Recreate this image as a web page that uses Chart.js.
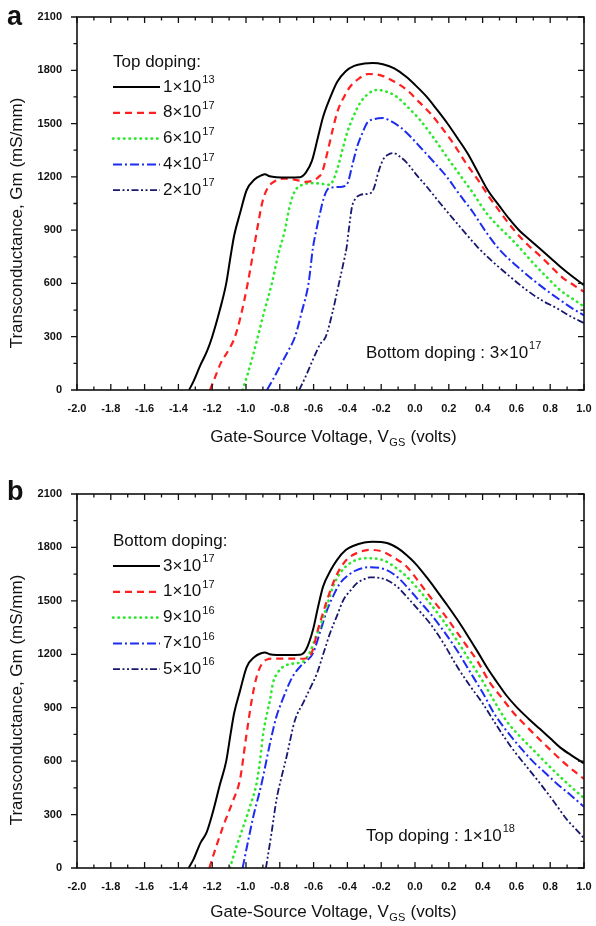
<!DOCTYPE html>
<html>
<head>
<meta charset="utf-8">
<title>Transconductance vs gate-source voltage</title>
<script src="https://cdn.jsdelivr.net/npm/chart.js@4.4.1/dist/chart.umd.min.js"></script>
<style>
  body { margin: 0; background: #fff; }
  canvas { display: block; }
</style>
</head>
<body>
<canvas id="chartA" width="596" height="463"></canvas>
<canvas id="chartB" width="596" height="463"></canvas>
<script>
// ---- data: [Vgs (V), Gm (mS/mm)] ----
// panel a: bottom doping fixed, top doping varied
const aTop1e13 = [[-1.337,0],[-1.31,50],[-1.27,140],[-1.23,220],[-1.2,300],[-1.155,450],[-1.117,600],[-1.09,760],[-1.07,870],[-1.035,996],[-0.996,1126],[-0.95,1185],[-0.91,1208],[-0.888,1215],[-0.86,1203],[-0.82,1198],[-0.75,1197],[-0.68,1198],[-0.645,1225],[-0.61,1290],[-0.575,1420],[-0.544,1537],[-0.5,1650],[-0.46,1735],[-0.41,1795],[-0.36,1825],[-0.3,1838],[-0.25,1841],[-0.19,1834],[-0.12,1810],[-0.05,1762],[0,1718],[0.07,1650],[0.13,1578],[0.19,1503],[0.25,1420],[0.31,1334],[0.37,1230],[0.43,1126],[0.5,1035],[0.56,960],[0.62,895],[0.68,845],[0.74,795],[0.8,745],[0.86,694],[0.93,640],[1,590]];
const aTop8e17 = [[-1.213,0],[-1.19,55],[-1.15,150],[-1.1,230],[-1.065,300],[-1.03,420],[-0.99,600],[-0.96,760],[-0.935,900],[-0.9,1070],[-0.87,1140],[-0.83,1175],[-0.78,1190],[-0.757,1190],[-0.7,1182],[-0.65,1172],[-0.6,1180],[-0.57,1200],[-0.55,1225],[-0.515,1351],[-0.486,1470],[-0.456,1576],[-0.42,1650],[-0.385,1706],[-0.33,1755],[-0.278,1779],[-0.207,1773],[-0.13,1740],[-0.047,1689],[0.02,1625],[0.089,1559],[0.16,1475],[0.225,1390],[0.3,1280],[0.385,1165],[0.44,1085],[0.49,1020],[0.54,955],[0.6,885],[0.67,815],[0.74,755],[0.8,700],[0.876,630],[0.94,590],[1,553]];
const aTop6e17 = [[-1.02,0],[-0.99,90],[-0.96,190],[-0.93,300],[-0.89,450],[-0.847,600],[-0.81,760],[-0.77,900],[-0.745,1020],[-0.72,1100],[-0.698,1137],[-0.66,1157],[-0.62,1165],[-0.56,1162],[-0.503,1155],[-0.48,1190],[-0.456,1256],[-0.43,1350],[-0.402,1447],[-0.36,1550],[-0.325,1616],[-0.28,1665],[-0.225,1689],[-0.17,1680],[-0.107,1650],[-0.04,1590],[0.03,1520],[0.11,1420],[0.189,1312],[0.27,1205],[0.343,1109],[0.42,1000],[0.5,915],[0.56,860],[0.62,800],[0.7,714],[0.78,635],[0.858,563],[0.93,515],[1,470]];
const aTop4e17 = [[-0.876,0],[-0.84,60],[-0.79,150],[-0.75,220],[-0.71,300],[-0.67,440],[-0.63,600],[-0.604,800],[-0.584,900],[-0.562,996],[-0.54,1080],[-0.52,1126],[-0.49,1140],[-0.444,1143],[-0.41,1150],[-0.396,1171],[-0.37,1270],[-0.343,1368],[-0.31,1450],[-0.284,1503],[-0.24,1525],[-0.19,1531],[-0.14,1512],[-0.089,1481],[-0.03,1430],[0.03,1368],[0.11,1285],[0.189,1199],[0.26,1105],[0.34,1005],[0.42,890],[0.5,790],[0.6,700],[0.7,619],[0.78,560],[0.858,507],[0.93,460],[1,420]];
const aTop2e17 = [[-0.685,0],[-0.65,70],[-0.6,180],[-0.56,260],[-0.528,300],[-0.49,430],[-0.45,600],[-0.42,730],[-0.405,800],[-0.392,900],[-0.373,1030],[-0.35,1080],[-0.325,1098],[-0.28,1105],[-0.254,1115],[-0.235,1160],[-0.225,1199],[-0.19,1295],[-0.16,1325],[-0.13,1334],[-0.09,1315],[-0.047,1278],[0.01,1210],[0.071,1143],[0.15,1050],[0.225,965],[0.305,875],[0.37,805],[0.46,722],[0.56,640],[0.66,563],[0.75,505],[0.838,461],[0.92,415],[1,377]];

// panel b: top doping fixed, bottom doping varied
const bBot3e17 = [[-1.34,0],[-1.31,50],[-1.27,140],[-1.233,200],[-1.2,300],[-1.154,470],[-1.117,600],[-1.09,760],[-1.07,870],[-1.035,996],[-0.996,1128],[-0.95,1185],[-0.91,1206],[-0.888,1210],[-0.86,1200],[-0.82,1196],[-0.75,1196],[-0.68,1197],[-0.645,1225],[-0.604,1336],[-0.575,1460],[-0.544,1580],[-0.5,1670],[-0.462,1729],[-0.41,1785],[-0.367,1808],[-0.3,1828],[-0.25,1832],[-0.166,1825],[-0.1,1795],[-0.047,1755],[0,1712],[0.071,1630],[0.13,1555],[0.189,1478],[0.25,1395],[0.308,1310],[0.37,1215],[0.43,1120],[0.483,1046],[0.54,970],[0.6,905],[0.67,840],[0.74,780],[0.8,728],[0.86,676],[0.93,630],[1,588]];
const bBot1e17 = [[-1.217,0],[-1.18,110],[-1.136,232],[-1.08,370],[-1.035,500],[-1,730],[-0.966,943],[-0.937,1074],[-0.91,1140],[-0.878,1170],[-0.84,1176],[-0.75,1176],[-0.68,1175],[-0.64,1178],[-0.62,1190],[-0.6,1240],[-0.58,1319],[-0.55,1415],[-0.52,1505],[-0.48,1610],[-0.444,1680],[-0.4,1735],[-0.345,1768],[-0.266,1786],[-0.19,1776],[-0.12,1740],[-0.049,1692],[0.02,1610],[0.089,1523],[0.16,1440],[0.225,1355],[0.3,1255],[0.365,1168],[0.444,1040],[0.51,960],[0.58,875],[0.66,795],[0.74,719],[0.81,655],[0.876,596],[0.94,545],[1,500]];
const bBot9e16 = [[-1.095,0],[-1.06,110],[-1.016,232],[-0.975,350],[-0.937,477],[-0.915,620],[-0.898,758],[-0.875,870],[-0.858,943],[-0.84,1040],[-0.81,1100],[-0.78,1130],[-0.74,1145],[-0.698,1150],[-0.66,1160],[-0.62,1215],[-0.59,1290],[-0.562,1355],[-0.52,1475],[-0.485,1580],[-0.44,1660],[-0.385,1711],[-0.33,1735],[-0.286,1739],[-0.19,1729],[-0.12,1690],[-0.049,1636],[0.02,1565],[0.089,1486],[0.17,1385],[0.247,1280],[0.32,1170],[0.4,1050],[0.47,935],[0.542,825],[0.62,740],[0.7,663],[0.78,585],[0.858,513],[0.93,450],[1,393]];
const bBot7e16 = [[-1.02,0],[-0.99,140],[-0.957,288],[-0.907,477],[-0.858,700],[-0.82,850],[-0.79,930],[-0.769,980],[-0.74,1045],[-0.71,1095],[-0.68,1130],[-0.64,1165],[-0.604,1205],[-0.56,1330],[-0.52,1449],[-0.48,1535],[-0.444,1598],[-0.4,1640],[-0.345,1673],[-0.266,1689],[-0.167,1673],[-0.1,1630],[-0.049,1580],[0.02,1505],[0.089,1430],[0.17,1330],[0.247,1224],[0.32,1110],[0.4,985],[0.47,865],[0.542,770],[0.62,680],[0.7,596],[0.77,535],[0.838,475],[0.92,410],[1,344]];
const bBot5e16 = [[-0.882,0],[-0.85,190],[-0.82,382],[-0.79,510],[-0.76,625],[-0.71,831],[-0.66,930],[-0.62,1010],[-0.58,1093],[-0.54,1210],[-0.503,1318],[-0.46,1420],[-0.424,1505],[-0.38,1560],[-0.345,1598],[-0.3,1622],[-0.266,1632],[-0.2,1627],[-0.167,1617],[-0.1,1575],[-0.049,1523],[0.02,1450],[0.089,1373],[0.17,1260],[0.25,1130],[0.32,1030],[0.4,925],[0.49,790],[0.58,665],[0.66,570],[0.74,475],[0.82,375],[0.9,270],[0.95,220],[1,168]];

// labels ("^" marks the exponent)
const legendLabelsA = ['1×10^13', '8×10^17', '6×10^17', '4×10^17', '2×10^17'];
const legendLabelsB = ['3×10^17', '1×10^17', '9×10^16', '7×10^16', '5×10^16'];
const xAxisRange = [-2, 1];
const yAxisRange = [0, 2100];

const FONT = '"Liberation Sans", Arial, sans-serif';

const lineStyles = [
    { color: '#000000', dash: [], width: 2 },
    { color: '#ff1f1f', dash: [7, 5], width: 2.2 },
    { color: '#2ee82e', dash: [0.5, 5], width: 2.6, cap: 'round' },
    { color: '#1c2cf0', dash: [9, 3, 2, 3], width: 2 },
    { color: '#18186e', dash: [7, 2.5, 2, 2.5, 2, 2.5], width: 1.8 },
];

// text with a raised exponent after "^"
function drawPower(ctx, text, x, y, size) {
    const parts = text.split('^');
    ctx.font = size + 'px ' + FONT;
    ctx.fillText(parts[0], x, y);
    if (parts[1]) {
        const w = ctx.measureText(parts[0]).width;
        ctx.font = Math.round(size * 0.62) + 'px ' + FONT;
        ctx.fillText(parts[1], x + w + 1, y - size * 0.4);
    }
}

const panelPlugin = {
    id: 'panel',
    afterDatasetsDraw(chart, args, o) {
        const ctx = chart.ctx;
        const { left, right, top, bottom } = chart.chartArea;
        const xs = chart.scales.x, ys = chart.scales.y;
        ctx.save();
        ctx.setLineDash([]);
        ctx.strokeStyle = '#111';

        // frame + ticks on all four sides
        ctx.lineWidth = 1.6;
        ctx.strokeRect(left, top, right - left, bottom - top);
        ctx.lineWidth = 1.3;
        ctx.beginPath();
        for (let i = 0; i <= 30; i++) {
            const px = xs.getPixelForValue(xs.min + i * 0.1);
            const len = i % 2 === 0 ? 6 : 3.5;
            ctx.moveTo(px, bottom); ctx.lineTo(px, bottom - len);
            ctx.moveTo(px, top); ctx.lineTo(px, top + len);
        }
        for (let v = ys.min; v <= ys.max; v += 150) {
            const py = ys.getPixelForValue(v);
            const len = v % 300 === 0 ? 6 : 3.5;
            ctx.moveTo(left, py); ctx.lineTo(left - len, py);
            ctx.moveTo(right, py); ctx.lineTo(right - len, py);
        }
        ctx.stroke();

        ctx.fillStyle = '#111';
        ctx.textBaseline = 'middle';
        ctx.textAlign = 'left';

        // legend
        ctx.font = '17px ' + FONT;
        ctx.fillText(o.legendTitle, 113, o.legendY);
        chart.data.datasets.forEach((ds, i) => {
            const y = o.legendY + 25 + i * 25.8;
            ctx.save();
            ctx.strokeStyle = ds.borderColor;
            ctx.lineWidth = ds.borderWidth;
            ctx.lineCap = ds.borderCapStyle;
            ctx.setLineDash(ds.borderDash);
            ctx.beginPath();
            ctx.moveTo(113, y); ctx.lineTo(160, y);
            ctx.stroke();
            ctx.restore();
            drawPower(ctx, ds.label, 163, y, 17);
        });

        // annotation
        drawPower(ctx, o.note, 366, o.noteY, 17);

        // x title with subscript
        ctx.font = '17px ' + FONT;
        const t1 = 'Gate-Source Voltage, V', t2 = 'GS', t3 = ' (volts)';
        const w1 = ctx.measureText(t1).width, w3 = ctx.measureText(t3).width;
        ctx.font = '11px ' + FONT;
        const w2 = ctx.measureText(t2).width;
        let x = 333 - (w1 + w2 + w3) / 2;
        ctx.font = '17px ' + FONT;
        ctx.fillText(t1, x, o.xTitleY);
        ctx.font = '11px ' + FONT;
        ctx.fillText(t2, x + w1 + 0.5, o.xTitleY + 6);
        ctx.font = '17px ' + FONT;
        ctx.fillText(t3, x + w1 + w2 + 1, o.xTitleY);

        // y title
        ctx.save();
        ctx.translate(17, o.yTitleY);
        ctx.rotate(-Math.PI / 2);
        ctx.textAlign = 'center';
        ctx.fillText('Transconductance, Gm (mS/mm)', 0, 0);
        ctx.restore();

        // panel letter
        ctx.textBaseline = 'alphabetic';
        ctx.font = 'bold 27px ' + FONT;
        ctx.fillText(o.letter, 7, o.letterY);
        ctx.restore();
    }
};

function makeChart(id, series, labels, panel, area) {
    return new Chart(document.getElementById(id), {
        type: 'line',
        data: {
            datasets: series.map((pts, i) => ({
                label: labels[i],
                data: pts.map(p => ({ x: p[0], y: p[1] })),
                borderColor: lineStyles[i].color,
                borderDash: lineStyles[i].dash,
                borderWidth: lineStyles[i].width,
                borderCapStyle: lineStyles[i].cap || 'butt',
                pointRadius: 0,
                cubicInterpolationMode: 'monotone',
                fill: false
            }))
        },
        options: {
            responsive: false,
            animation: false,
            devicePixelRatio: 1,
            layout: { padding: { top: area.top, right: 596 - area.right, left: 0, bottom: 0 } },
            plugins: { legend: { display: false }, tooltip: { enabled: false }, panel: panel },
            scales: {
                x: {
                    type: 'linear', min: xAxisRange[0], max: xAxisRange[1],
                    afterFit: s => { s.height = 463 - area.bottom; },
                    // tick marks are drawn by the panel plugin; tickLength only spaces the labels
                    grid: { display: false, drawTicks: true, tickLength: 12 },
                    border: { display: false },
                    ticks: {
                        stepSize: 0.2, padding: 0, color: '#111', maxRotation: 0, autoSkip: false,
                        font: { family: FONT, size: 11, weight: 'bold' },
                        callback: v => (Math.abs(v) < 1e-9 ? 0 : v).toFixed(1)
                    }
                },
                y: {
                    min: yAxisRange[0], max: yAxisRange[1],
                    afterFit: s => { s.width = area.left; },
                    grid: { display: false, drawTicks: true, tickLength: 15 },
                    border: { display: false },
                    ticks: {
                        stepSize: 300, padding: 0, color: '#111',
                        font: { family: FONT, size: 11, weight: 'bold' },
                        callback: v => String(v)
                    }
                }
            }
        },
        plugins: [panelPlugin]
    });
}

makeChart('chartA', [aTop1e13, aTop8e17, aTop6e17, aTop4e17, aTop2e17], legendLabelsA,
    { letter: 'a', letterY: 25, legendTitle: 'Top doping:', legendY: 62,
      note: 'Bottom doping : 3×10^17', noteY: 353, xTitleY: 437, yTitleY: 223 },
    { left: 77, right: 584, top: 17, bottom: 390 });

makeChart('chartB', [bBot3e17, bBot1e17, bBot9e16, bBot7e16, bBot5e16], legendLabelsB,
    { letter: 'b', letterY: 37, legendTitle: 'Bottom doping:', legendY: 78,
      note: 'Top doping : 1×10^18', noteY: 373, xTitleY: 449, yTitleY: 237 },
    { left: 77, right: 584, top: 31, bottom: 405 });
</script>
</body>
</html>
